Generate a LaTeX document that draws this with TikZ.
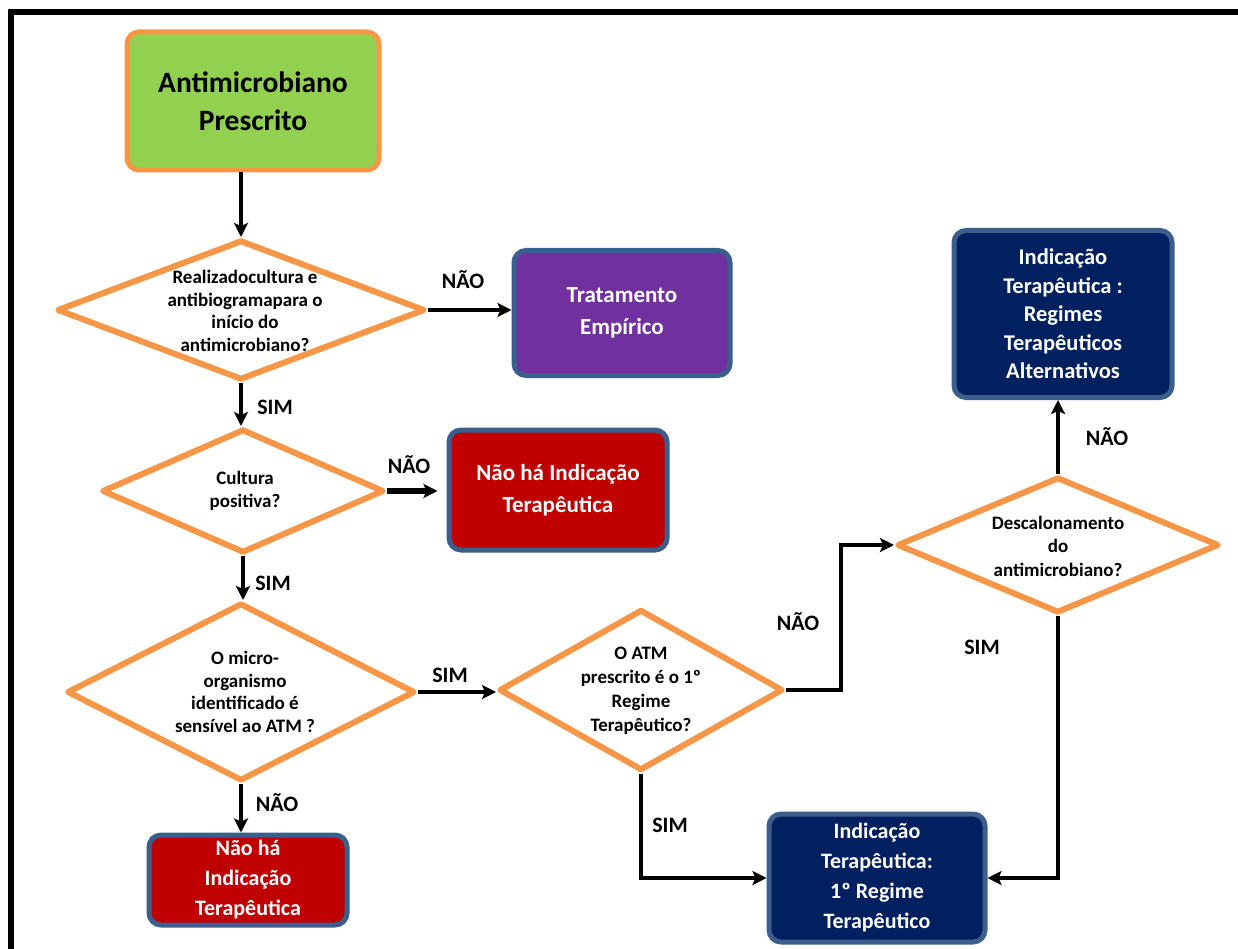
\documentclass[tikz,border=0pt]{standalone}
\usepackage{fontspec}
\setmainfont{Carlito}
\usetikzlibrary{shapes.geometric,arrows.meta}
\definecolor{ora}{HTML}{F79646}
\definecolor{grn}{HTML}{92D050}
\definecolor{pur}{HTML}{7030A0}
\definecolor{redb}{HTML}{C00000}
\definecolor{navy}{HTML}{002060}
\definecolor{edge}{HTML}{3B5E8C}
\begin{document}
\begin{tikzpicture}[x=1pt,y=-1pt,
 box/.style={rectangle, rounded corners=12pt, line width=5pt, draw=edge, text=white, align=center, font=\fontsize{23}{32}\selectfont\bfseries, inner sep=0pt},
 dia/.style={diamond, draw=ora, line width=6pt, inner sep=0pt, line join=round},
 dtext/.style={align=center, font=\fontsize{19}{22.5}\selectfont\bfseries, inner sep=0pt},
 arr/.style={line width=4pt, -{Stealth[length=14pt,width=14pt,inset=3pt]}},
 lbl/.style={font=\fontsize{22}{24}\selectfont\bfseries, inner sep=0pt}
]
\useasboundingbox (0,0) rectangle (1238,949);
\draw[line width=6pt] (11,949) -- (11,12) -- (1238,12);

\node[box, fill=grn, draw=ora, text=black, minimum width=252pt, minimum height=138pt, font=\fontsize{29.5}{38}\selectfont\bfseries] (start) at (253,101) {Antimicrobiano\\Prescrito};

\node[dia, minimum width=368pt, minimum height=140pt] (d1) at (241,310) {};
\node[dtext] (d1t) at (245,311) {Realizadocultura e\\antibiogramapara o\\início do\\antimicrobiano?};

\node[box, fill=pur, minimum width=216pt, minimum height=125pt] (trat) at (622,313) {Tratamento\\Empírico};

\node[dia, minimum width=282pt, minimum height=124pt] (d2) at (243,491) {};
\node[dtext] (d2t) at (245,491) {Cultura\\positiva?};

\node[box, fill=redb, minimum width=218pt, minimum height=120pt] (nh1) at (558,490) {Não há Indicação\\Terapêutica};

\node[dia, minimum width=348pt, minimum height=178pt] (d3) at (241,692) {};
\node[dtext] (d3t) at (245,692) {O micro-\\organismo\\identificado é\\sensível ao ATM ?};

\node[dia, minimum width=284pt, minimum height=161pt] (d4) at (641,690) {};
\node[dtext, font=\fontsize{19}{24}\selectfont\bfseries] (d4t) at (641,691) {O ATM\\prescrito é o 1º\\Regime\\Terapêutico?};

\node[dia, minimum width=322pt, minimum height=136pt] (d5) at (1058,545) {};
\node[dtext, font=\fontsize{19}{23.5}\selectfont\bfseries] (d5t) at (1058,546) {Descalonamento\\do\\antimicrobiano?};

\node[box, fill=navy, minimum width=218pt, minimum height=167pt, font=\fontsize{22.5}{28.5}\selectfont\bfseries] (alt) at (1063,314) {Indicação\\Terapêutica :\\Regimes\\Terapêuticos\\Alternativos};

\node[box, fill=navy, minimum width=216pt, minimum height=128pt, font=\fontsize{22}{30}\selectfont\bfseries] (ind) at (877,878) {Indicação\\Terapêutica:\\1º Regime\\Terapêutico};

\node[box, fill=redb, minimum width=198pt, minimum height=90pt, font=\fontsize{22}{30}\selectfont\bfseries] (nh2) at (248,880) {Não há\\Indicação\\Terapêutica};

\draw[arr] (start.south -| d1.north) -- (d1.north);
\draw[arr] (d1.east) -- (d1.east -| trat.west);
\draw[arr] (d1.south) -- (d1.south |- d2.north);
\draw[arr, line width=6pt] (d2.east) -- ([xshift=-9pt]d2.east -| nh1.west);
\draw[arr] (d2.south) -- (d2.south |- d3.north);
\draw[arr] (d3.east) -- (d3.east -| d4.west);
\draw[arr] (d3.south) -- (d3.south |- nh2.north);
\draw[arr] (d4.east) -- ++(55,0) |- (d5.west);
\draw[arr] (d5.north) -- (d5.north |- alt.south);
\draw[arr] (d5.south) |- (ind.east);
\draw[arr] (d4.south) |- (ind.west);

\node[lbl] (l1) at (463,280) {NÃO};
\node[lbl] (l2) at (275,407) {SIM};
\node[lbl] (l3) at (409,465) {NÃO};
\node[lbl] (l4) at (273,583) {SIM};
\node[lbl] (l5) at (450,675) {SIM};
\node[lbl] (l6) at (798,622) {NÃO};
\node[lbl] (l7) at (1107,437) {NÃO};
\node[lbl] (l8) at (982,647) {SIM};
\node[lbl] (l9) at (670,825) {SIM};
\node[lbl] (l10) at (277,803) {NÃO};
\end{tikzpicture}
\end{document}
